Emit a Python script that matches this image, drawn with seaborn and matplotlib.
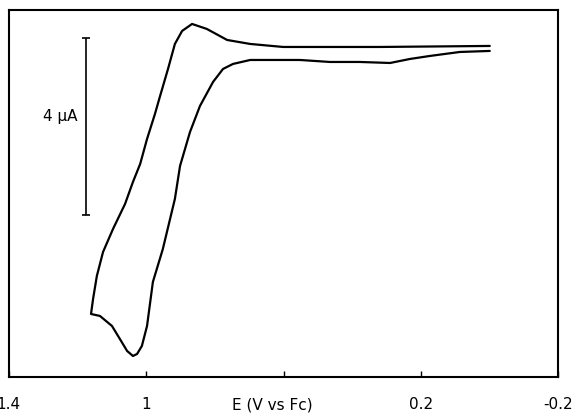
import numpy as np
import pandas as pd
import matplotlib
matplotlib.use('Agg')
import matplotlib.pyplot as plt
import seaborn as sns

# potential (V vs Fc) and current (uA), in scan order
E_V = [0.000, 0.087, 0.174, 0.232, 0.290, 0.378, 0.465, 0.552, 0.697, 0.747,
       0.776, 0.805, 0.843, 0.872, 0.901, 0.916, 0.930, 0.951, 0.980, 0.997,
       1.012, 1.026, 1.038, 1.055, 1.076, 1.099, 1.134, 1.160,
       1.154, 1.143, 1.125, 1.096, 1.061, 1.038, 1.017, 0.997, 0.974, 0.959,
       0.936, 0.916, 0.895, 0.866, 0.823, 0.764, 0.697, 0.601, 0.319, 0.000]
I_uA = [-0.090, -0.113, -0.203, -0.271, -0.362, -0.339, -0.339, -0.294, -0.294, -0.384,
        -0.497, -0.791, -1.333, -1.921, -2.689, -3.435, -3.887, -4.565, -5.311, -6.305,
        -6.757, -6.938, -6.983, -6.870, -6.599, -6.305, -6.079, -6.034,
        -5.695, -5.175, -4.633, -4.113, -3.548, -3.051, -2.644, -2.079, -1.514, -1.107,
        -0.497, 0.068, 0.362, 0.520, 0.407, 0.158, 0.068, 0.000, 0.000, 0.023]

x_ticks = [1.4, 1.0, 0.6, 0.2, -0.2]
x_ticklabels = ['1.4', '1', '', '0.2', '-0.2']

# 4 uA scale bar
bar_E = 1.175
bar_top, bar_bottom = 0.2, -3.8

sns.set_theme(style='white')
plt.rcParams['font.family'] = ['DejaVu Sans']

df = pd.DataFrame({'E': E_V, 'I': I_uA})

fig = plt.figure(figsize=(5.75, 4.14), dpi=100)
ax = fig.add_axes([0.0148, 0.087, 0.9565, 0.8865])

sns.lineplot(data=df, x='E', y='I', sort=False, estimator=None,
             color='black', linewidth=1.6, ax=ax)

ax.errorbar([bar_E], [(bar_top + bar_bottom) / 2], yerr=[(bar_top - bar_bottom) / 2],
            color='black', elinewidth=1.2, capsize=3, capthick=1.2, fmt='none')
ax.text(1.20, -1.56, '4 \u03bcA', ha='right', va='center', fontsize=11, color='black')

ax.set_xlim(1.4, -0.2)
ax.set_ylim(-7.458, 0.836)
ax.set_xticks(x_ticks)
ax.set_xticklabels(x_ticklabels)
ax.set_yticks([])
ax.tick_params(axis='x', direction='in', length=4, width=1, color='black',
               labelsize=11, labelcolor='black', pad=14, bottom=True)

ax.set_xlabel('E (V vs Fc)', fontsize=11, color='black')
ax.xaxis.set_label_coords(0.479, -0.052)
ax.set_ylabel('')

for s in ax.spines.values():
    s.set_visible(True)
    s.set_color('black')
    s.set_linewidth(1.5)

fig.savefig('out.png', dpi=100, facecolor='white')
